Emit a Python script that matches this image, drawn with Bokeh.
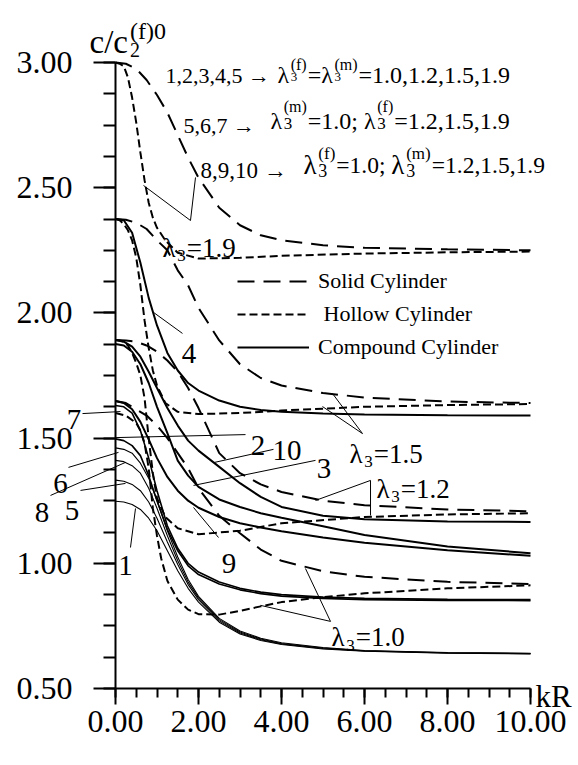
from bokeh.plotting import figure
from bokeh.models import (Range1d, SingleIntervalTicker, PrintfTickFormatter,
                          Label, Legend, LegendItem, LinearAxis)
from bokeh.embed import file_html
from bokeh.resources import INLINE

FONT = "Liberation Serif"

# ---------------- data ----------------
x_solid = [0, 0.25, 0.5, 0.75, 1, 1.25, 1.5, 1.75, 2, 2.5, 3, 3.5, 4, 5, 6, 8, 10]
solid_19 = [3.0, 2.995, 2.975, 2.93, 2.87, 2.80, 2.71, 2.62, 2.54, 2.42, 2.35, 2.31, 2.29, 2.27, 2.26, 2.254, 2.25]
solid_15 = [2.375, 2.372, 2.36, 2.335, 2.29, 2.25, 2.17, 2.11, 2.02, 1.89, 1.795, 1.74, 1.71, 1.68, 1.662, 1.646, 1.64]
solid_12 = [1.892, 1.89, 1.885, 1.87, 1.845, 1.81, 1.765, 1.70, 1.62, 1.44, 1.36, 1.315, 1.285, 1.25, 1.232, 1.215, 1.208]
solid_10 = [1.648, 1.64, 1.615, 1.59, 1.55, 1.50, 1.44, 1.38, 1.30, 1.19, 1.12, 1.055, 1.01, 0.968, 0.946, 0.926, 0.917]

x_hollow = [0, 0.1, 0.2, 0.3, 0.4, 0.5, 0.6, 0.7, 0.8, 0.9, 1.0, 1.2, 1.5, 2, 3, 4, 6, 8, 10]
hollow_19 = [3.0, 2.995, 2.985, 2.94, 2.86, 2.76, 2.64, 2.53, 2.44, 2.38, 2.34, 2.29, 2.24, 2.217, 2.22, 2.228, 2.237, 2.242, 2.245]
hollow_15 = [2.375, 2.37, 2.355, 2.33, 2.29, 2.22, 2.11, 1.97, 1.86, 1.77, 1.71, 1.64, 1.605, 1.596, 1.60, 1.61, 1.625, 1.632, 1.636]
hollow_12 = [1.892, 1.89, 1.885, 1.87, 1.84, 1.80, 1.75, 1.66, 1.50, 1.36, 1.26, 1.185, 1.14, 1.116, 1.13, 1.16, 1.185, 1.195, 1.20]
x_hollow_10 = [0, 0.25, 0.5, 0.6, 0.7, 0.8, 0.9, 1.0, 1.1, 1.25, 1.5, 1.75, 2, 2.5, 3, 3.5, 4, 5, 6, 8, 10]
hollow_10 = [1.60, 1.59, 1.56, 1.53, 1.48, 1.38, 1.22, 1.11, 1.02, 0.93, 0.855, 0.815, 0.797, 0.795, 0.81, 0.828, 0.845, 0.865, 0.88, 0.90, 0.912]

x_comp = [0, 0.2, 0.4, 0.6, 0.8, 1.0, 1.25, 1.5, 1.75, 2, 2.5, 3, 3.5, 4, 5, 6, 8, 10]
comp_4 = [2.375, 2.37, 2.32, 2.20, 2.06, 1.95, 1.84, 1.77, 1.72, 1.69, 1.65, 1.625, 1.612, 1.605, 1.598, 1.594, 1.591, 1.59]
comp_10 = [1.892, 1.885, 1.865, 1.825, 1.765, 1.70, 1.62, 1.55, 1.49, 1.45, 1.385, 1.32, 1.265, 1.225, 1.19, 1.176, 1.167, 1.165]
comp_3 = [1.876, 1.87, 1.845, 1.795, 1.72, 1.625, 1.52, 1.41, 1.35, 1.305, 1.255, 1.225, 1.20, 1.182, 1.148, 1.113, 1.067, 1.04]
comp_9 = [1.648, 1.64, 1.615, 1.565, 1.495, 1.42, 1.345, 1.29, 1.25, 1.222, 1.185, 1.16, 1.143, 1.128, 1.103, 1.082, 1.052, 1.03]
comp_7 = [1.63, 1.625, 1.60, 1.53, 1.42, 1.29, 1.15, 1.06, 1.0, 0.965, 0.925, 0.90, 0.885, 0.875, 0.865, 0.86, 0.856, 0.855]
comp_2 = [1.497, 1.49, 1.47, 1.43, 1.35, 1.25, 1.135, 1.05, 0.99, 0.955, 0.917, 0.894, 0.879, 0.869, 0.86, 0.855, 0.852, 0.851]
comp_6 = [1.461, 1.455, 1.44, 1.40, 1.34, 1.25, 1.13, 1.025, 0.935, 0.868, 0.78, 0.73, 0.701, 0.683, 0.664, 0.652, 0.644, 0.641]
comp_8 = [1.411, 1.406, 1.39, 1.36, 1.30, 1.22, 1.11, 1.01, 0.925, 0.862, 0.775, 0.726, 0.698, 0.68, 0.662, 0.651, 0.643, 0.640]
comp_5 = [1.332, 1.328, 1.315, 1.29, 1.245, 1.18, 1.085, 0.995, 0.915, 0.855, 0.77, 0.722, 0.695, 0.678, 0.66, 0.65, 0.642, 0.639]
comp_1 = [1.248, 1.245, 1.235, 1.215, 1.18, 1.13, 1.05, 0.97, 0.90, 0.845, 0.765, 0.718, 0.692, 0.676, 0.658, 0.649, 0.641, 0.638]

legend_labels = ["Solid Cylinder", " Hollow Cylinder", "Compound Cylinder"]

X_BOUNDS = (0, 10)
Y_BOUNDS = (0.5, 3.0)
X_TICK_STEP = 2
Y_TICK_STEP = 0.5

# ---------------- figure ----------------
p = figure(width=576, height=763,
           min_border_left=0, min_border_right=0,
           min_border_top=0, min_border_bottom=0,
           x_range=Range1d(-2.7711, 11.1084), y_range=Range1d(0.2005, 3.2476),
           output_backend="svg", toolbar_location=None)
p.outline_line_color = None
p.grid.visible = False
p.background_fill_color = "white"
p.border_fill_color = "white"

# labelled axes (line + tick labels)
xa = p.xaxis[0]
ya = p.yaxis[0]
for ax in (xa, ya):
    ax.axis_line_width = 2
    ax.axis_line_color = "black"
    ax.formatter = PrintfTickFormatter(format="%.2f")
    ax.major_label_text_font = FONT
    ax.major_label_text_font_size = "32px"
    ax.major_label_text_color = "black"
    ax.major_tick_line_color = None
    ax.minor_tick_line_color = None
    ax.major_tick_in = 0
    ax.minor_tick_in = 0

xa.ticker = SingleIntervalTicker(interval=X_TICK_STEP, num_minor_ticks=4)
xa.bounds = X_BOUNDS
xa.fixed_location = Y_BOUNDS[0]
xa.major_tick_out = 16
xa.minor_tick_out = 9
xa.major_label_standoff = 6

ya.ticker = SingleIntervalTicker(interval=Y_TICK_STEP, num_minor_ticks=4)
ya.bounds = Y_BOUNDS
ya.fixed_location = X_BOUNDS[0]
ya.major_tick_out = 22
ya.minor_tick_out = 12
ya.major_label_standoff = 21

# companion axes on the opposite sides that draw the tick marks
# (their inward ticks point to the outside of the chart)
ytick_axis = LinearAxis(ticker=SingleIntervalTicker(interval=Y_TICK_STEP, num_minor_ticks=4),
                        bounds=Y_BOUNDS, fixed_location=X_BOUNDS[0],
                        major_tick_in=22, major_tick_out=0,
                        minor_tick_in=12, minor_tick_out=0,
                        major_tick_line_width=2, minor_tick_line_width=2,
                        major_tick_line_color="black", minor_tick_line_color="black",
                        axis_line_color=None, major_label_text_color=None,
                        major_label_text_font_size="1px")
p.add_layout(ytick_axis, "right")
xtick_axis = LinearAxis(ticker=SingleIntervalTicker(interval=X_TICK_STEP, num_minor_ticks=4),
                        bounds=X_BOUNDS, fixed_location=Y_BOUNDS[0],
                        major_tick_in=16, major_tick_out=0,
                        minor_tick_in=9, minor_tick_out=0,
                        major_tick_line_width=2, minor_tick_line_width=2,
                        major_tick_line_color="black", minor_tick_line_color="black",
                        axis_line_color=None, major_label_text_color=None,
                        major_label_text_font_size="1px")
p.add_layout(xtick_axis, "above")

LONG = "17 9"
SHORT = "8 4"
r_solid = None
for ys in (solid_19, solid_15, solid_12, solid_10):
    r = p.line(x_solid, ys, line_color="black", line_width=2, line_dash=LONG)
    r_solid = r_solid or r
r_hollow = None
for ys in (hollow_19, hollow_15, hollow_12):
    r = p.line(x_hollow, ys, line_color="black", line_width=2, line_dash=SHORT)
    r_hollow = r_hollow or r
p.line(x_hollow_10, hollow_10, line_color="black", line_width=2, line_dash=SHORT)

r_comp = None
for ys in (comp_4, comp_10, comp_3, comp_9):
    r = p.line(x_comp, ys, line_color="black", line_width=2)
    r_comp = r_comp or r
for ys in (comp_7, comp_2):
    p.line(x_comp, ys, line_color="black", line_width=1.6)
for ys in (comp_6, comp_8, comp_5, comp_1):
    p.line(x_comp, ys, line_color="black", line_width=1.1)

legend = Legend(items=[LegendItem(label=legend_labels[0], renderers=[r_solid]),
                       LegendItem(label=legend_labels[1], renderers=[r_hollow]),
                       LegendItem(label=legend_labels[2], renderers=[r_comp])],
                location=(237, 401), orientation="vertical",
                glyph_width=72, glyph_height=30, label_height=30,
                label_standoff=9, spacing=3, padding=0, margin=0,
                border_line_color=None, background_fill_alpha=0,
                label_text_font=FONT, label_text_font_size="22px",
                label_text_color="black")
p.add_layout(legend)

# ---------------- annotations ----------------
WID = {c: 0.5 for c in "0123456789"}
WID.update({",": 0.25, ".": 0.25, ";": 0.278, " ": 0.25, "=": 0.564, "(": 0.333,
            ")": 0.333, "f": 0.333, "m": 0.778, "λ": 0.55, "→": 1.0, "c": 0.444,
            "/": 0.278, "k": 0.5, "R": 0.667})


def tw(s, size):
    return sum(WID.get(ch, 0.5) for ch in s) * size


def lab(x, y, text, size, dx=0.0, dy=0.0, align="left"):
    p.add_layout(Label(x=x, y=y, x_offset=dx, y_offset=-dy, text=text,
                       text_font=FONT, text_font_size=f"{size}px",
                       text_color="black", text_align=align,
                       text_baseline="alphabetic"))


def rich(x, y, parts):
    dx = 0.0
    for part in parts:
        kind = part[0]
        if kind == "t":
            _, s, size, dy = part
            lab(x, y, s, size, dx, dy)
            dx += tw(s, size)
        elif kind == "g":
            dx += part[1]
        else:
            _, sub, sup, subsize, subdy, supsize, supdy = part
            w = 0.0
            if sub:
                lab(x, y, sub, subsize, dx, subdy)
                w = max(w, tw(sub, subsize))
            if sup:
                lab(x, y, sup, supsize, dx, supdy)
                w = max(w, tw(sup, supsize))
            dx += w + 1


# axis titles
rich(-0.627, 3.08, [("t", "c/c", 33, 0), ("g", 2), ("s", "2", "(f)0", 20, 8, 24, -11)])
lab(10.12, 0.47, "kR", 31)

# header rows
rich(1.205, 2.948, [("t", "1,2,3,4,5 → ", 22, 0), ("g", 2), ("t", "λ", 24, -1),
                    ("s", "3", "(f)", 13, 1, 16, -11), ("t", "=", 24, -1), ("t", "λ", 24, -1),
                    ("s", "3", "(m)", 13, 1, 16, -11), ("t", "=1.0,1.2,1.5,1.9", 24, -1)])
rich(1.639, 2.748, [("t", "5,6,7 → ", 22, 0), ("g", 10), ("t", "λ", 24, -5),
                    ("s", "3", "(m)", 17, -2, 16, -19), ("t", "=1.0; ", 24, -5), ("t", "λ", 24, -5),
                    ("s", "3", "(f)", 17, -2, 16, -19), ("t", "=1.2,1.5,1.9", 24, -5)])
rich(2.048, 2.569, [("t", "8,9,10 → ", 23, 0), ("g", 11), ("t", "λ", 27, -5),
                    ("s", "3", "(f)", 18, 0, 17, -17), ("t", "=1.0; ", 23.5, -5), ("t", "λ", 27, -5),
                    ("s", "3", "(m)", 18, 0, 17, -17), ("t", "=1.2,1.5,1.9", 23.5, -5)])

lam_labels = [("=1.9", 1.133, 2.261), ("=1.5", 5.639, 1.4385),
              ("=1.2", 6.289, 1.2987), ("=1.0", 5.205, 0.7037)]
for txt, lx, ly in lam_labels:
    rich(lx, ly, [("t", "λ", 27, 0), ("s", "3", "", 17, 8, 0, 0), ("t", txt, 27, 0)])

leaders = [
    ((1.807, 2.369), (0.675, 2.509)), ((1.807, 2.369), (1.928, 2.541)),
    ((5.952, 1.518), (5.229, 1.678)), ((5.952, 1.518), (4.988, 1.626)),
    ((6.145, 1.331), (4.819, 1.251)), ((6.145, 1.331), (6.145, 1.191)),
    ((5.181, 0.768), (4.578, 0.979)), ((5.181, 0.768), (3.494, 0.832)),
    ((0.916, 2.002), (1.614, 1.918)),    # 4
    ((-0.795, 1.598), (0.120, 1.606)),   # 7
    ((3.133, 1.514), (0.0, 1.502)),      # 2
    ((3.807, 1.455), (2.386, 1.403)),    # 10
    ((4.819, 1.411), (1.880, 1.311)),    # 3
    ((-1.133, 1.383), (0.072, 1.443)),   # 6
    ((-1.566, 1.271), (0.241, 1.403)),   # 8
    ((-0.843, 1.291), (0.241, 1.319)),   # 5
    ((0.361, 1.063), (0.482, 1.219)),    # 1
    ((2.482, 1.103), (1.880, 1.223)),    # 9
]
p.segment(x0=[a[0] for a, b in leaders], y0=[a[1] for a, b in leaders],
          x1=[b[0] for a, b in leaders], y1=[b[1] for a, b in leaders],
          line_color="black", line_width=1)

num_labels = [("4", 1.771, 1.838), ("7", -1.0, 1.574), ("2", 3.434, 1.470),
              ("10", 4.133, 1.4505), ("3", 5.024, 1.3786), ("6", -1.325, 1.3187),
              ("8", -1.771, 1.2029), ("5", -1.048, 1.2109), ("1", 0.241, 0.9912),
              ("9", 2.735, 0.9992)]
for t, nx, ny in num_labels:
    lab(nx, ny, t, 29, align="center")

open("out.html", "w").write(file_html(p, INLINE))
